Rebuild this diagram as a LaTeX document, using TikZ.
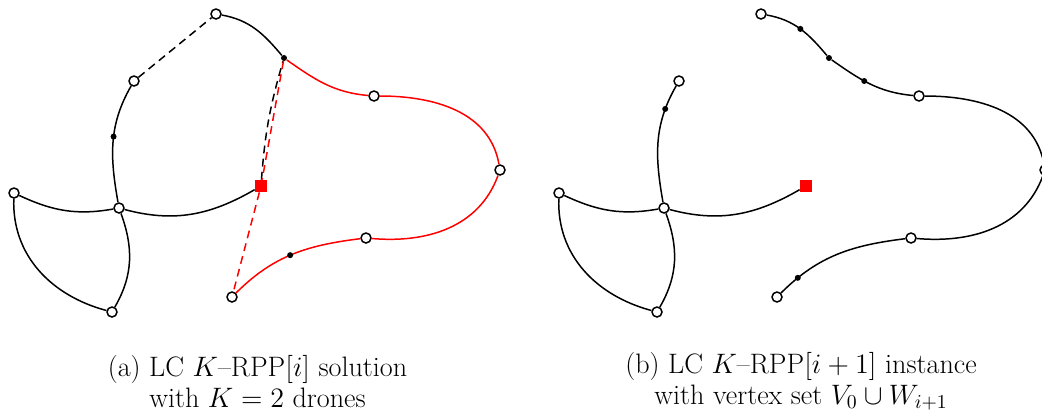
\RequirePackage{fix-cm}
\documentclass[tikz,border=0pt]{standalone}
\usepackage{amsmath,amssymb}
\usepackage{xcolor}
\usepackage{tikz}
\usetikzlibrary{positioning}

\begin{document}
\begin{tikzpicture}[
    vtx/.style={circle,draw,fill=white,line width=0.85pt,inner sep=0pt,minimum size=0.2cm},
    subpt/.style={circle,fill=black,inner sep=0pt,minimum size=0.12cm},
    depotbox/.style={rectangle,fill=red,inner sep=0pt,minimum size=0.24cm},
    road/.style={line width=0.85pt},
    route/.style={road,red},
    flight/.style={line width=0.85pt,dash pattern=on 4.5pt off 3pt},
    capt/.style={font=\fontsize{16}{17.6}\selectfont,align=center}
]
\useasboundingbox (0,0) rectangle (20.84,-8.28);

% (a) solution of the current round
\begin{scope}
    \node[vtx] (aA) at (4.32,-0.28) {};
    \node[vtx] (aB) at (2.68,-1.62) {};
    \node[vtx] (aX) at (2.38,-4.16) {};
    \node[vtx] (aL) at (0.28,-3.86) {};
    \node[vtx] (aF) at (2.24,-6.24) {};
    \node[depotbox] (aO) at (5.22,-3.72) {};
    \node[subpt] (aD) at (5.68,-1.16) {};
    \node[vtx] (aP) at (7.48,-1.92) {};
    \node[vtx] (aR) at (10.00,-3.40) {};
    \node[vtx] (aQ) at (7.32,-4.76) {};
    \node[vtx] (aS) at (4.64,-5.94) {};

    \draw[road] (aB) to[out=240,in=100] node[subpt,pos=0.45] (aB1) {} (aX);
    \draw[road] (aL) to[out=335,in=190] (aX);
    \draw[road] (aX) to[out=345,in=210] (aO);
    \draw[road] (aL) to[out=268,in=165] (aF);
    \draw[road] (aX) to[out=290,in=60] (aF);
    \draw[road] (aA) to[out=350,in=130] (aD);
    \draw[route] (aD) to[out=325,in=175] (aP);
    \draw[route] (aP) to[out=0,in=100] (aR);
    \draw[route] (aR) to[out=250,in=355] (aQ);
    \draw[route] (aQ) to[out=187,in=45] node[subpt,pos=0.52] (aE) {} (aS);
    \draw[flight] (aB) -- (aA);
    \draw[flight] (aO) to[bend left=6] (aD);
    \draw[flight,red] (aD) -- (aO) -- (aS);

    \node[capt] (capa) at (5.15,-7.63) {(a) LC $K$--RPP$[i]$ solution\\with $K=2$ drones};
\end{scope}

% (b) next instance
\begin{scope}[xshift=10.9cm]
    \node[vtx] (bA) at (4.32,-0.28) {};
    \node[vtx] (bB) at (2.68,-1.62) {};
    \node[vtx] (bX) at (2.38,-4.16) {};
    \node[vtx] (bL) at (0.28,-3.86) {};
    \node[vtx] (bF) at (2.24,-6.24) {};
    \node[depotbox] (bO) at (5.22,-3.72) {};
    \node[subpt] (bD) at (5.68,-1.16) {};
    \node[vtx] (bP) at (7.48,-1.92) {};
    \node[vtx] (bR) at (10.00,-3.40) {};
    \node[vtx] (bQ) at (7.32,-4.76) {};
    \node[vtx] (bS) at (4.64,-5.94) {};

    \draw[road] (bB) to[out=240,in=100] node[subpt,pos=0.2] (bB1) {} (bX);
    \draw[road] (bL) to[out=335,in=190] (bX);
    \draw[road] (bX) to[out=345,in=210] (bO);
    \draw[road] (bL) to[out=268,in=165] (bF);
    \draw[road] (bX) to[out=290,in=60] (bF);
    \draw[road] (bA) to[out=350,in=130] node[subpt,pos=0.5] (bA1) {} (bD);
    \draw[road] (bD) to[out=325,in=175] node[subpt,pos=0.42] (bD1) {} (bP);
    \draw[road] (bP) to[out=0,in=100] (bR);
    \draw[road] (bR) to[out=250,in=355] (bQ);
    \draw[road] (bQ) to[out=187,in=45] node[subpt,pos=0.85] (bQ1) {} (bS);

    \node[capt] (capb) at (5.12,-7.63) {(b) LC $K$--RPP$[i+1]$ instance\\with vertex set $V_0\cup W_{i+1}$};
\end{scope}
\end{tikzpicture}
\end{document}
